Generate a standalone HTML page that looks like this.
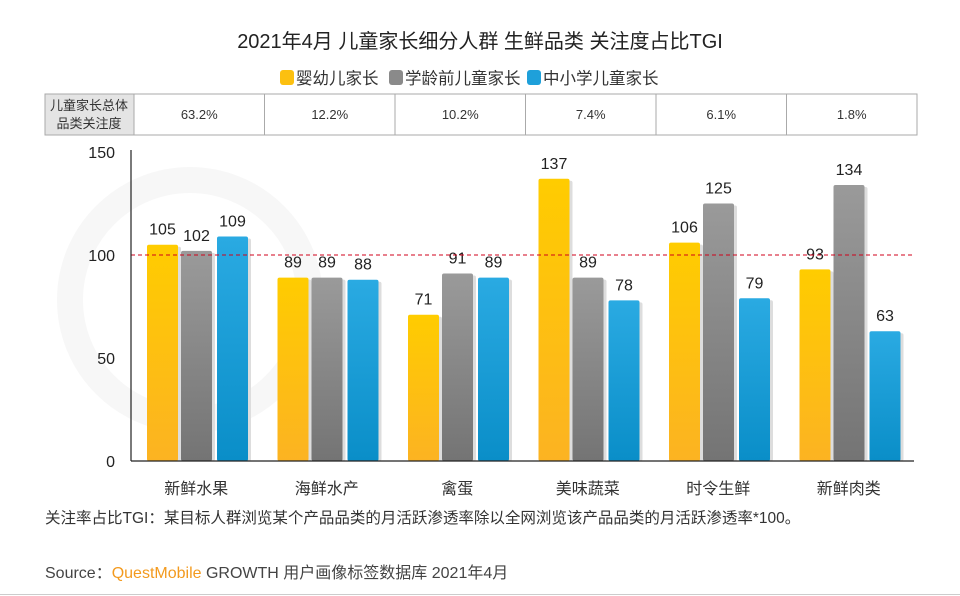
<!DOCTYPE html>
<html><head><meta charset="utf-8">
<style>
body{margin:0;background:#fff;}
svg{display:block;font-family:"Liberation Sans","Noto Sans CJK SC",sans-serif;}
</style></head>
<body>
<svg id="chart" width="960" height="596" viewBox="0 0 960 596">
<defs>
<linearGradient id="gY" x1="0" y1="0" x2="0" y2="1"><stop offset="0" stop-color="#ffcc00"/><stop offset="1" stop-color="#fcb322"/></linearGradient>
<linearGradient id="gG" x1="0" y1="0" x2="0" y2="1"><stop offset="0" stop-color="#9a9a9a"/><stop offset="1" stop-color="#747474"/></linearGradient>
<linearGradient id="gB" x1="0" y1="0" x2="0" y2="1"><stop offset="0" stop-color="#2aaae2"/><stop offset="1" stop-color="#0a8ec8"/></linearGradient>
</defs>
<circle cx="190" cy="300" r="120" fill="none" stroke="#f7f7f7" stroke-width="26"/>
<text x="480" y="48" text-anchor="middle" font-size="20" fill="#222">2021年4月 儿童家长细分人群 生鲜品类 关注度占比TGI</text>
<g font-size="16.5" fill="#333">
<rect x="280" y="70" width="14" height="15" rx="3" fill="#fcc010"/>
<text x="296" y="84">婴幼儿家长</text>
<rect x="389" y="70" width="14" height="15" rx="3" fill="#8a8a8a"/>
<text x="405" y="84">学龄前儿童家长</text>
<rect x="527" y="70" width="14" height="15" rx="3" fill="#1ea0da"/>
<text x="543" y="84">中小学儿童家长</text>
</g>
<g id="table">
<rect x="45" y="94" width="89" height="41" fill="#e4e4e4" stroke="#aaa"/>
<text x="89" y="110" text-anchor="middle" font-size="13" fill="#333">儿童家长总体</text>
<text x="89" y="128" text-anchor="middle" font-size="13" fill="#333">品类关注度</text>
</g>
<g id="plot"></g>
<text x="45" y="523" font-size="15.5" fill="#333">关注率占比TGI：某目标人群浏览某个产品品类的月活跃渗透率除以全网浏览该产品品类的月活跃渗透率*100。</text>
<text x="45" y="578" font-size="16" fill="#444">Source：<tspan fill="#f39a1e">QuestMobile</tspan> GROWTH 用户画像标签数据库 2021年4月</text>
<line x1="0" y1="594.5" x2="960" y2="594.5" stroke="#ccc"/>
</svg>
<script>
const categories = ["新鲜水果","海鲜水产","禽蛋","美味蔬菜","时令生鲜","新鲜肉类"];
const attention = ["63.2%","12.2%","10.2%","7.4%","6.1%","1.8%"];
const infant = [105,89,71,137,106,93];
const preschool = [102,89,91,89,125,134];
const school = [109,88,89,78,79,63];
const yTicks = [0,50,100,150];

const NS="http://www.w3.org/2000/svg";
const x0=131, x1=914, yBase=461, yTop=152, yMax=150;
const groupW=(x1-x0)/categories.length;
const y=v=>yBase-(v/yMax)*(yBase-yTop);
const gx=i=>x0+groupW*i;
function mk(tag,attrs,parent){const e=document.createElementNS(NS,tag);for(const k in attrs)e.setAttribute(k,attrs[k]);parent.appendChild(e);return e;}
const plot=document.getElementById('plot');
const table=document.getElementById('table');

categories.forEach((c,i)=>{
  const r=mk('rect',{x:gx(i)+3,y:94,width:groupW,height:41,fill:'#fff',stroke:'#aaa'},table);
  
  
  const t=mk('text',{x:gx(i)+3+groupW/2,y:119,'text-anchor':'middle','font-size':13,fill:'#333'},table);
  t.textContent=attention[i];
  
  
});

yTicks.forEach(v=>{
  const t=mk('text',{x:115,y:y(v)+6,'text-anchor':'end','font-size':16,fill:'#222'},plot);
  t.textContent=v;
  
  
});

const series=[[infant,'url(#gY)','infant'],[preschool,'url(#gG)','preschool'],[school,'url(#gB)','school']];
const bw=31, offs=[16,50,86];
categories.forEach((c,i)=>{
  series.forEach((s,k)=>{
    const v=s[0][i], bx=gx(i)+offs[k];
    const sh=mk('rect',{x:bx+3,y:y(v)+2,width:bw,height:yBase-y(v)-2,fill:'#ddd',rx:2},plot);
    
    
    const b=mk('rect',{x:bx,y:y(v),width:bw,height:yBase-y(v),fill:s[1],rx:2},plot);
    
    
    const t=mk('text',{x:bx+bw/2,y:y(v)-10,'text-anchor':'middle','font-size':16,fill:'#222'},plot);
    t.textContent=v;
    
    
  });
  const t=mk('text',{x:gx(i)+groupW/2,y:494,'text-anchor':'middle','font-size':16,fill:'#333'},plot);
  t.textContent=c;
  
  
});

const ref=mk('line',{x1:x0,x2:x1,y1:y(100),y2:y(100),stroke:'#d0021b','stroke-dasharray':'4,3','stroke-width':1},plot);


const ya=mk('line',{x1:x0,x2:x0,y1:yTop-2,y2:yBase,stroke:'#222','stroke-width':1.2},plot);


const xa=mk('line',{x1:x0,x2:x1,y1:yBase,y2:yBase,stroke:'#222','stroke-width':1.2},plot);


</script>
</body></html>
